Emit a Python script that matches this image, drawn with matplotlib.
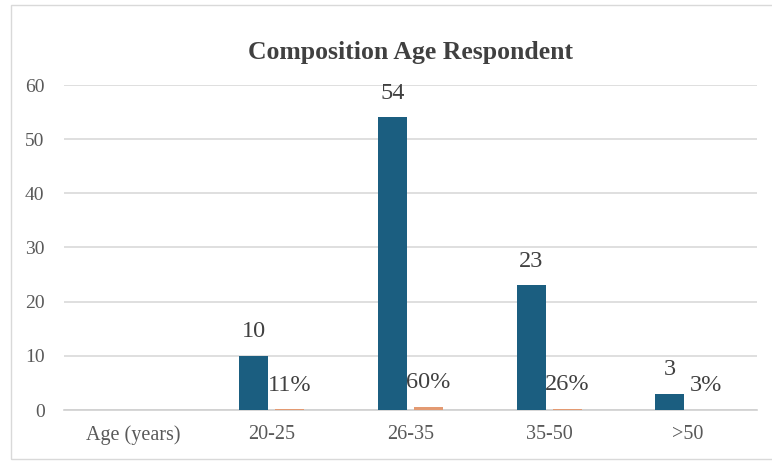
import matplotlib.pyplot as plt
import numpy as np
from matplotlib.patches import Rectangle

plt.rcParams['font.family'] = 'Liberation Serif'

categories = ["Age (years)", "20-25", "26-35", "35-50", ">50"]
counts = [0, 10, 54, 23, 3]
shares = [0, 0.11, 0.60, 0.26, 0.03]
count_labels = ["", "10", "54", "23", "3"]
share_labels = ["", "11%", "60%", "26%", "3%"]

W, H = 772, 461
fig = plt.figure(figsize=(W / 100, H / 100), dpi=100)
ax = fig.add_axes([64 / W, 1 - 410 / H, (757 - 64) / W, (410 - 85) / H])

x = np.arange(len(categories))
width = 0.21
offset = 0.13
blue = '#1b5e80'
orange = '#e39a72'

b1 = ax.bar(x - offset, counts, width, color=blue, zorder=3)
b2 = ax.bar(x + offset, shares, width, color=orange, zorder=3)

# labels sit about 24 px above each bar top
for bars, texts in ((b1, count_labels), (b2, share_labels)):
    for rect, txt in zip(bars, texts):
        if txt:
            ax.annotate(txt, (rect.get_x() + rect.get_width() / 2, rect.get_height()),
                        xytext=(0, 17.5), textcoords='offset points',
                        ha='center', va='center', fontsize=17.5, color='#404040')

ax.set_xlim(-0.5, len(categories) - 0.5)
ax.set_ylim(0, 60)
ax.set_yticks(range(0, 61, 10))
ax.set_xticks(x)
ax.set_xticklabels(categories)
ax.tick_params(axis='both', length=0, labelsize=14.5, colors='#595959')
ax.tick_params(axis='x', pad=11)
ax.tick_params(axis='y', pad=14, labelsize=14)
ax.grid(axis='y', color='#d9d9d9', linewidth=1.2, zorder=0)
for s in ['top', 'right', 'left']:
    ax.spines[s].set_visible(False)
ax.spines['bottom'].set_color('#d0d0d0')
ax.spines['bottom'].set_linewidth(1.2)

fig.text(411 / W, 1 - 52 / H, 'Composition Age Respondent', ha='center', va='center',
         fontsize=18.5, fontweight='bold', color='#404040')

# chart frame
fig.patches.append(Rectangle((11 / W, 1 - 459 / H), 1, (459 - 5) / H,
                             transform=fig.transFigure, fill=False,
                             edgecolor='#d9d9d9', linewidth=1))

fig.savefig('out.png', dpi=100)
